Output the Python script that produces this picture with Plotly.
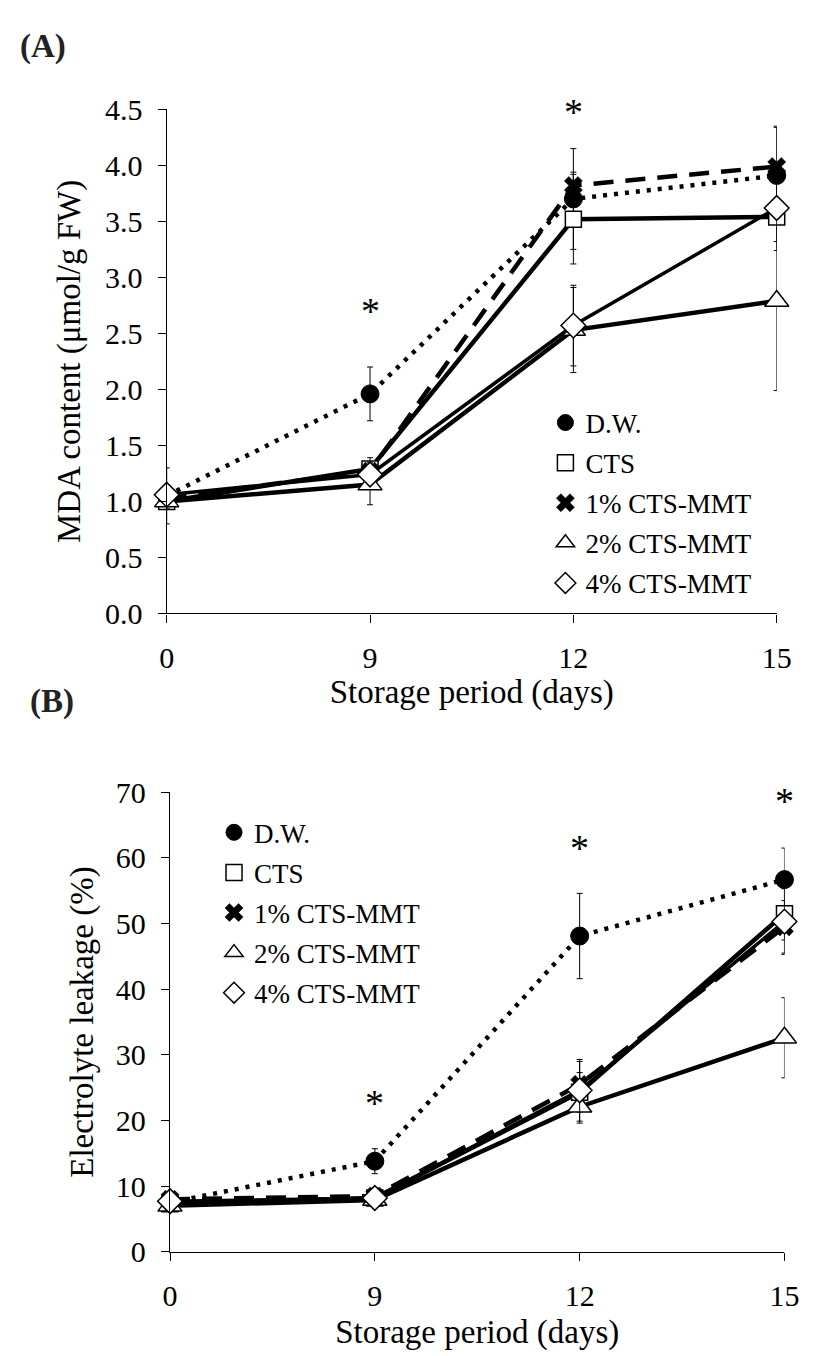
import plotly.graph_objects as go

# ---------------- data ----------------
days = ["0", "9", "12", "15"]
series_names = ["D.W.", "CTS", "1% CTS-MMT", "2% CTS-MMT", "4% CTS-MMT"]

# Panel A: MDA content (umol/g FW)
mda_dw = [1.05, 1.96, 3.70, 3.91]
mda_cts = [1.00, 1.29, 3.52, 3.54]
mda_1 = [1.03, 1.27, 3.82, 3.99]
mda_2 = [1.00, 1.15, 2.53, 2.79]
mda_4 = [1.06, 1.24, 2.57, 3.62]
mda_dw_err = [0.25, 0.24, 0.45, 0.43]
mda_cts_err = [0.05, 0.10, 0.40, 0.30]
mda_1_err = [0.04, 0.08, 0.12, 0.36]
mda_2_err = [0.06, 0.18, 0.38, 0.80]
mda_4_err = [0.05, 0.08, 0.36, 0.30]
mda_star_days = ["9", "12"]
mda_star_y = [2.70, 4.48]

# Panel B: Electrolyte leakage (%)
el_dw = [7.5, 13.8, 48.1, 56.7]
el_cts = [7.3, 8.2, 24.3, 51.5]
el_1 = [8.0, 8.5, 25.5, 49.5]
el_2 = [7.0, 7.9, 22.1, 32.6]
el_4 = [7.7, 8.2, 24.6, 50.3]
el_dw_err = [1.0, 1.9, 6.5, 4.8]
el_cts_err = [0.8, 0.6, 3.0, 4.0]
el_1_err = [0.9, 0.5, 3.5, 4.0]
el_2_err = [0.6, 0.5, 2.5, 6.1]
el_4_err = [0.8, 0.5, 4.7, 5.0]
el_star_days = ["9", "12", "15"]
el_star_y = [22.6, 61.5, 68.7]

# ---------------- styles ----------------
FONT = "Liberation Serif"
W, H = 816, 1356

styles = [
    dict(line=dict(color="black", width=4.5, dash="4px,7px"),
         marker=dict(symbol="circle", size=18, color="black", line=dict(color="black", width=1))),
    dict(line=dict(color="black", width=4.5),
         marker=dict(symbol="square", size=16, color="white", line=dict(color="black", width=1.5))),
    dict(line=dict(color="black", width=4.5, dash="20px,12px"),
         marker=dict(symbol="x", size=16, color="black", line=dict(color="black", width=0.5))),
    dict(line=dict(color="black", width=4.5),
         marker=dict(symbol="triangle-up", size=21, color="white", line=dict(color="black", width=1.5))),
    dict(line=dict(color="black", width=3.5),
         marker=dict(symbol="diamond", size=19, color="white", line=dict(color="black", width=1.5))),
]

fig = go.Figure()

panels = [
    ("x", "y", "legend", [(mda_dw, mda_dw_err), (mda_cts, mda_cts_err), (mda_1, mda_1_err),
                          (mda_2, mda_2_err), (mda_4, mda_4_err)]),
    ("x2", "y2", "legend2", [(el_dw, el_dw_err), (el_cts, el_cts_err), (el_1, el_1_err),
                             (el_2, el_2_err), (el_4, el_4_err)]),
]

for xa, ya, lg, series in panels:
    for i, (vals, err) in enumerate(series):
        st = styles[i]
        fig.add_trace(go.Scatter(
            x=days, y=vals, mode="lines+markers", name=series_names[i],
            line=st["line"], marker=st["marker"], cliponaxis=False,
            error_y=dict(type="data", array=err, visible=True, color="black", thickness=1, width=3),
            xaxis=xa, yaxis=ya, showlegend=False, legendgroup=lg + str(i),
        ))
    # legend entries (marker symbol only, as in the original figure)
    for i in range(len(series)):
        st = styles[i]
        fig.add_trace(go.Scatter(
            x=[None], y=[None], mode="markers", name=series_names[i],
            marker=st["marker"], xaxis=xa, yaxis=ya, legend=lg,
            legendgroup=lg + str(i), showlegend=True,
        ))

# asterisks (significance marks), placed by category index
for d, v in zip(mda_star_days, mda_star_y):
    fig.add_annotation(x=days.index(d), y=v, xref="x", yref="y", text="*", showarrow=False,
                       xanchor="center", yanchor="middle",
                       font=dict(family=FONT, size=38, color="black"))
for d, v in zip(el_star_days, el_star_y):
    fig.add_annotation(x=days.index(d), y=v, xref="x2", yref="y2", text="*", showarrow=False,
                       xanchor="center", yanchor="middle",
                       font=dict(family=FONT, size=38, color="black"))

# panel labels
fig.add_annotation(x=36 / W, y=1 - 30 / H, xref="paper", yref="paper", text="<b>(A)</b>",
                   xanchor="center", yanchor="middle",
                   showarrow=False, font=dict(family=FONT, size=33, color="#222"))
fig.add_annotation(x=45 / W, y=1 - 702 / H, xref="paper", yref="paper", text="<b>(B)</b>",
                   xanchor="center", yanchor="middle",
                   showarrow=False, font=dict(family=FONT, size=33, color="#222"))

axis_common = dict(
    showline=True, linecolor="black", linewidth=1.3, ticks="outside", ticklen=8,
    tickcolor="black", tickwidth=1.3, showgrid=False, zeroline=False,
    tickfont=dict(family=FONT, size=30, color="black"),
    title_font=dict(family=FONT, size=33, color="black"),
    ticklabelstandoff=9,
)

fig.update_layout(
    width=W, height=H, autosize=False,
    margin=dict(l=0, r=0, t=0, b=0),
    paper_bgcolor="white", plot_bgcolor="white",
    xaxis=dict(axis_common, type="category", categoryorder="array", categoryarray=days,
               range=[0, 3], domain=[163.3 / W, 791 / W], anchor="y",
               title=dict(text="Storage period (days)", standoff=6)),
    yaxis=dict(axis_common, range=[0, 4.5], dtick=0.5, tickformat=".1f",
               domain=[1 - 611.3 / H, 1 - 94.7 / H], anchor="x",
               title=dict(text="MDA content (μmol/g FW)", standoff=14)),
    xaxis2=dict(axis_common, type="category", categoryorder="array", categoryarray=days,
                range=[0, 3], domain=[166.7 / W, 799 / W], anchor="y2",
                title=dict(text="Storage period (days)", standoff=8)),
    yaxis2=dict(axis_common, range=[0, 70], dtick=10,
                domain=[1 - 1265.6 / H, 1 - 794.6 / H], anchor="x2",
                title=dict(text="Electrolyte leakage (%)", standoff=12)),
    legend=dict(x=553 / W, y=1 - 391 / H, xanchor="left", yanchor="top",
                font=dict(family=FONT, size=27, color="black"),
                bgcolor="rgba(0,0,0,0)", tracegroupgap=2, itemwidth=30),
    legend2=dict(x=212 / W, y=1 - 811 / H, xanchor="left", yanchor="top",
                 font=dict(family=FONT, size=27, color="black"),
                 bgcolor="rgba(0,0,0,0)", tracegroupgap=2, itemwidth=30),
    showlegend=True,
)

fig.write_html("out.html")
